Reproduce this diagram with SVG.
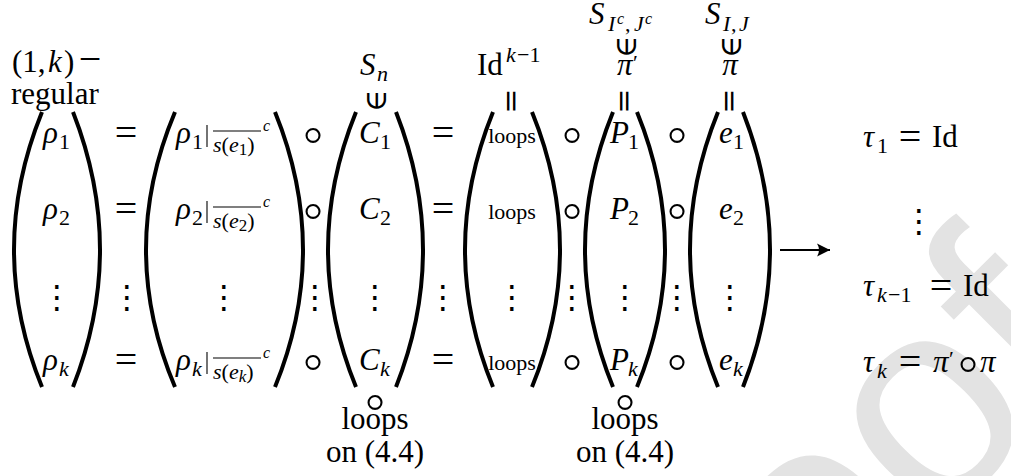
<svg xmlns="http://www.w3.org/2000/svg" width="1011" height="476" viewBox="0 0 1011 476">
<style>
text { fill:#000; }
.it { font-family:"Liberation Serif",serif; font-style:italic; font-size:31px; }
.rm { font-family:"Liberation Serif",serif; font-size:31px; }
.sb { font-family:"Liberation Serif",serif; font-style:italic; font-size:22px; }
.sr { font-family:"Liberation Serif",serif; font-size:22px; }
.ss { font-family:"Liberation Serif",serif; font-style:italic; font-size:16px; }
.sm { font-family:"Liberation Serif",serif; font-size:22px; text-anchor:middle; }
.eq { font-family:"Liberation Serif",serif; font-size:40px; text-anchor:middle; }
.ci { font-family:"DejaVu Sans",sans-serif; font-weight:200; font-size:56px; text-anchor:middle; }
.vd { font-family:"DejaVu Sans",sans-serif; font-size:32px; text-anchor:middle; }
.rot { font-family:"DejaVu Serif",serif; font-size:30px; text-anchor:middle; dominant-baseline:central; }
.rq { font-family:"DejaVu Serif",serif; font-size:30px; text-anchor:middle; dominant-baseline:central; }
.c { text-anchor:middle; }
.br { fill:none; stroke:#000; stroke-width:4; }
.ol { stroke:#000; stroke-width:1.1; }
.wm { font-family:"Liberation Sans",sans-serif; font-size:290px; fill:#e3e3e3; }
</style>
<defs>
<marker id="tip" markerWidth="16" markerHeight="14" refX="14" refY="7" orient="auto" markerUnits="userSpaceOnUse">
<path d="M14,7 L1,0.5 Q5,7 1,13.5 Z" fill="#000"/>
</marker>
</defs>
<rect width="1011" height="476" fill="#fff"/>
<text class="wm" x="613" y="851" transform="rotate(-45 613 851)">Proof</text>

<g id="label-left">
<text class="rm" x="12" y="72">(1,</text>
<text class="it" x="48" y="72">k</text>
<text class="rm" x="64" y="72">)</text>
<text class="eq" x="90" y="72">−</text>
<text class="rm" x="11" y="104">regular</text>
</g>

<g id="col1">
<path class="br" d="M42,112 Q-14,250 42,387"/>
<path class="br" d="M73,112 Q127,250 73,387"/>
<text class="it" x="43" y="143">ρ</text><text class="sr" x="59" y="149">1</text>
<text class="it" x="43" y="219">ρ</text><text class="sr" x="59" y="225">2</text>
<text class="vd" x="57" y="308">⋮</text>
<text class="it" x="43" y="370">ρ</text><text class="sb" x="59" y="376">k</text>
</g>

<g id="col2">
<path class="br" d="M175,112 Q117,250 175,387"/>
<path class="br" d="M275,112 Q331,250 275,387"/>
<text class="it" x="176" y="143">ρ</text><text class="sr" x="192" y="149">1</text>
<line class="ol" x1="207" y1="125" x2="207" y2="147"/>
<line class="ol" x1="213" y1="131" x2="261" y2="131"/>
<text class="sr" x="213" y="152" font-size="24"><tspan font-style="italic">s</tspan>(<tspan font-style="italic">e</tspan><tspan font-size="17" dy="3">1</tspan><tspan dy="-3">)</tspan></text>
<text class="ss" x="263" y="131">c</text>
<text class="it" x="176" y="219">ρ</text><text class="sr" x="192" y="225">2</text>
<line class="ol" x1="207" y1="201" x2="207" y2="223"/>
<line class="ol" x1="213" y1="207" x2="261" y2="207"/>
<text class="sr" x="213" y="228" font-size="24"><tspan font-style="italic">s</tspan>(<tspan font-style="italic">e</tspan><tspan font-size="17" dy="3">2</tspan><tspan dy="-3">)</tspan></text>
<text class="ss" x="263" y="207">c</text>
<text class="vd" x="224" y="308">⋮</text>
<text class="it" x="176" y="370">ρ</text><text class="sb" x="192" y="376">k</text>
<line class="ol" x1="207" y1="352" x2="207" y2="374"/>
<line class="ol" x1="213" y1="358" x2="261" y2="358"/>
<text class="sr" x="213" y="379" font-size="24"><tspan font-style="italic">s</tspan>(<tspan font-style="italic">e</tspan><tspan font-size="17" font-style="italic" dy="3">k</tspan><tspan dy="-3">)</tspan></text>
<text class="ss" x="263" y="358">c</text>
</g>

<g id="col3">
<path class="br" d="M356,112 Q300,250 356,387"/>
<path class="br" d="M396,112 Q450,250 396,387"/>
<text class="it" x="360" y="75">S</text><text class="sb" x="377" y="81">n</text>
<text class="rot" x="375" y="101" transform="rotate(-90 375 101)">∈</text>
<text class="it" x="359" y="143">C</text><text class="sr" x="380" y="149">1</text>
<text class="it" x="359" y="219">C</text><text class="sr" x="380" y="225">2</text>
<text class="vd" x="375" y="308">⋮</text>
<text class="it" x="359" y="370">C</text><text class="sb" x="380" y="376">k</text>
<text class="ci" x="375" y="420">∘</text>
<text class="rm c" x="375" y="429">loops</text>
<text class="rm c" x="375" y="462">on (4.4)</text>
</g>

<g id="col4">
<path class="br" d="M493,112 Q437,250 493,387"/>
<path class="br" d="M532,112 Q588,250 532,387"/>
<text class="rm" x="477" y="75">Id</text>
<text class="sb" x="506" y="62">k</text><text class="sr" x="517" y="62">−1</text>
<text class="rq" x="512" y="101" transform="rotate(90 512 101)">=</text>
<text class="sm" x="512" y="143">loops</text>
<text class="sm" x="512" y="219">loops</text>
<text class="vd" x="512" y="308">⋮</text>
<text class="sm" x="512" y="370">loops</text>
</g>

<g id="col5">
<path class="br" d="M613,112 Q557,250 613,387"/>
<path class="br" d="M637,112 Q693,250 637,387"/>
<text class="it" x="589" y="24">S</text>
<text class="sb" x="608" y="31">I</text><text class="ss" x="617" y="24">c</text><text class="sr" x="625" y="31">,</text>
<text class="sb" x="634" y="31">J</text><text class="ss" x="645" y="24">c</text>
<text class="rot" x="625" y="47" transform="rotate(-90 625 47)">∈</text>
<text class="it" x="617" y="75">π</text><text class="sr" x="633" y="70">′</text>
<text class="rq" x="625" y="101" transform="rotate(90 625 101)">=</text>
<text class="it" x="610" y="143">P</text><text class="sr" x="628" y="149">1</text>
<text class="it" x="610" y="219">P</text><text class="sr" x="628" y="225">2</text>
<text class="vd" x="625" y="308">⋮</text>
<text class="it" x="610" y="370">P</text><text class="sb" x="628" y="376">k</text>
<text class="ci" x="625" y="420">∘</text>
<text class="rm c" x="625" y="429">loops</text>
<text class="rm c" x="625" y="462">on (4.4)</text>
</g>

<g id="col6">
<path class="br" d="M718,112 Q662,250 718,387"/>
<path class="br" d="M743,112 Q797,250 743,387"/>
<text class="it" x="705" y="24">S</text>
<text class="sb" x="723" y="31">I</text><text class="sr" x="731" y="31">,</text><text class="sb" x="739" y="31">J</text>
<text class="rot" x="730" y="47" transform="rotate(-90 730 47)">∈</text>
<text class="it c" x="730" y="75">π</text>
<text class="rq" x="730" y="101" transform="rotate(90 730 101)">=</text>
<text class="it" x="719" y="143">e</text><text class="sr" x="733" y="149">1</text>
<text class="it" x="719" y="219">e</text><text class="sr" x="733" y="225">2</text>
<text class="vd" x="730" y="308">⋮</text>
<text class="it" x="719" y="370">e</text><text class="sb" x="733" y="376">k</text>
</g>

<g id="ops">
<text class="eq" x="126" y="146">=</text>
<text class="eq" x="126" y="222">=</text>
<text class="vd" x="127" y="308">⋮</text>
<text class="eq" x="126" y="373">=</text>
<text class="ci" x="313" y="153">∘</text>
<text class="ci" x="313" y="229">∘</text>
<text class="vd" x="315" y="308">⋮</text>
<text class="ci" x="313" y="380">∘</text>
<text class="eq" x="443" y="146">=</text>
<text class="eq" x="443" y="222">=</text>
<text class="vd" x="443" y="308">⋮</text>
<text class="eq" x="443" y="373">=</text>
<text class="ci" x="572" y="153">∘</text>
<text class="ci" x="572" y="229">∘</text>
<text class="vd" x="572" y="308">⋮</text>
<text class="ci" x="572" y="380">∘</text>
<text class="ci" x="677" y="153">∘</text>
<text class="ci" x="677" y="229">∘</text>
<text class="vd" x="677" y="308">⋮</text>
<text class="ci" x="677" y="380">∘</text>
</g>

<g id="connectors">
<line x1="780" y1="250" x2="830" y2="250" stroke="#000" stroke-width="1.8" marker-end="url(#tip)"/>
</g>

<g id="tau">
<text class="it" x="863" y="147">τ</text><text class="sr" x="877" y="153">1</text>
<text class="eq" x="910" y="150">=</text>
<text class="rm" x="932" y="147">Id</text>
<text class="vd" x="919" y="232">⋮</text>
<text class="it" x="863" y="296">τ</text><text class="sb" x="877" y="302">k</text><text class="sr" x="888" y="302">−1</text>
<text class="eq" x="941" y="299">=</text>
<text class="rm" x="963" y="296">Id</text>
<text class="it" x="863" y="372">τ</text><text class="sb" x="877" y="378">k</text>
<text class="eq" x="910" y="375">=</text>
<text class="it" x="933" y="372">π</text><text class="sr" x="949" y="366">′</text>
<text class="ci" x="968" y="382">∘</text>
<text class="it" x="980" y="372">π</text>
</g>
</svg>
